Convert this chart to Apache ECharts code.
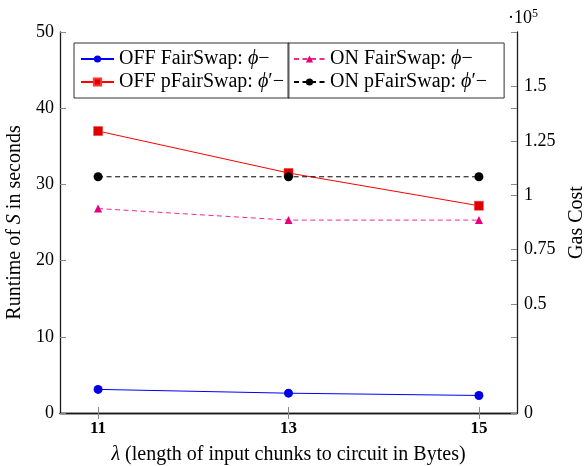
<!DOCTYPE html>
<html><head><meta charset="utf-8">
<script src="https://cdn.jsdelivr.net/npm/echarts@6/dist/echarts.min.js"></script>
<style>html,body{margin:0;padding:0;background:#fff}#c{width:584px;height:466px}</style>
</head><body><div id="c"></div>
<script>
const lambdas = [11, 13, 15];
const offFairSwap = [3.1, 2.6, 2.3];
const offPFairSwap = [37.0, 31.5, 27.2];
const onFairSwap = [93900, 88600, 88600];
const onPFairSwap = [108500, 108500, 108500];
const leftTicks = [0, 10, 20, 30, 40, 50];
const rightTicks = [0, 50000, 75000, 100000, 125000, 150000];
const rightTickLabels = ['0', '0.5', '0.75', '1', '1.25', '1.5'];

const FONT = 'Liberation Serif';
const FS = 20;
const pairs = ys => lambdas.map((x, i) => [x, ys[i]]);
const frame = { show: true, lineStyle: { color: '#1a1a1a', width: 1.3 } };
const tick = { show: true, inside: true, length: 6, lineStyle: { color: '#888', width: 1 } };
const rich = {
  i: { fontFamily: FONT, fontStyle: 'italic', fontSize: FS, color: '#000' }
};
const richT = {
  s: { fontFamily: FONT, fontSize: 12, color: '#000', verticalAlign: 'top', padding: [0, 0, 8, 0] }
};
const legendFmt = n => n.replace(/ϕ/g, '{i|ϕ}');

const chart = echarts.init(document.getElementById('c'), null, { renderer: 'canvas' });
chart.setOption({
  animation: false,
  backgroundColor: '#fff',
  title: {
    text: '·10{s|5}', left: 503, top: 3,
    textStyle: { fontFamily: FONT, fontSize: 18, fontWeight: 'normal', color: '#000', rich: richT }
  },
  grid: { left: 60, right: 67, top: 32, bottom: 53, outerBoundsMode: 'none', containLabel: false },
  legend: [
    {
      data: ['OFF FairSwap: ϕ−', 'OFF pFairSwap: ϕ′−'],
      orient: 'vertical', left: 74, top: 43,
      padding: [6, 5, 6, 6], itemGap: 3, itemWidth: 33, itemHeight: 9,
      borderColor: '#333', borderWidth: 1, borderRadius: 0,
      formatter: legendFmt,
      textStyle: { fontFamily: FONT, fontSize: FS, color: '#000', rich: rich }
    },
    {
      data: ['ON FairSwap: ϕ−', 'ON pFairSwap: ϕ′−'],
      orient: 'vertical', left: 288, top: 43,
      padding: [6, 17, 6, 5], itemGap: 3, itemWidth: 31, itemHeight: 9,
      borderColor: '#333', borderWidth: 1, borderRadius: 0,
      formatter: legendFmt,
      textStyle: { fontFamily: FONT, fontSize: FS, color: '#000', rich: rich }
    }
  ],
  xAxis: [
    {
      type: 'value', min: 10.6, max: 15.4, position: 'bottom',
      name: '{i|λ} (length of input chunks to circuit in Bytes)',
      nameLocation: 'middle', nameGap: 32,
      nameTextStyle: { fontFamily: FONT, fontSize: FS, color: '#000', rich: rich },
      axisLine: frame, splitLine: { show: false },
      axisTick: Object.assign({}, tick, { customValues: lambdas }),
      axisLabel: { customValues: lambdas, fontFamily: FONT, fontSize: 17, fontWeight: 'bold', color: '#000', margin: 7 }
    },
    {
      type: 'value', min: 10.6, max: 15.4, position: 'top',
      axisLine: frame, splitLine: { show: false },
      axisTick: Object.assign({}, tick, { customValues: lambdas }),
      axisLabel: { show: false }
    }
  ],
  yAxis: [
    {
      type: 'value', min: 0, max: 50, interval: 10, position: 'left',
      name: 'Runtime of {i|S} in seconds', nameLocation: 'middle', nameGap: 25,
      nameTextStyle: { fontFamily: FONT, fontSize: FS, color: '#000', rich: rich },
      axisLine: frame, splitLine: { show: false },
      axisTick: Object.assign({}, tick, { customValues: leftTicks }),
      axisLabel: { customValues: leftTicks, fontFamily: FONT, fontSize: 18, color: '#000', margin: 6 }
    },
    {
      type: 'value', min: 0, max: 175000, position: 'right',
      name: 'Gas Cost', nameLocation: 'middle', nameGap: 44, nameRotate: 90,
      nameTextStyle: { fontFamily: FONT, fontSize: FS, color: '#000' },
      axisLine: frame, splitLine: { show: false },
      axisTick: Object.assign({}, tick, { customValues: rightTicks }),
      axisLabel: {
        customValues: rightTicks, fontFamily: FONT, fontSize: 18, color: '#000', margin: 7,
        formatter: v => { const k = rightTicks.indexOf(v); return k >= 0 ? rightTickLabels[k] : ''; }
      }
    },
    {
      type: 'value', min: 0, max: 50, position: 'right',
      axisLine: { show: false }, splitLine: { show: false },
      axisTick: Object.assign({}, tick, { customValues: leftTicks }),
      axisLabel: { show: false }
    }
  ],
  series: [
    {
      name: 'OFF FairSwap: ϕ−', type: 'line', xAxisIndex: 0, yAxisIndex: 0,
      data: pairs(offFairSwap), symbol: 'circle', symbolSize: 9,
      lineStyle: { color: '#0000ff', width: 1 }, itemStyle: { color: '#0000e6' }
    },
    {
      name: 'OFF pFairSwap: ϕ′−', type: 'line', xAxisIndex: 0, yAxisIndex: 0,
      data: pairs(offPFairSwap), symbol: 'rect', symbolSize: 9,
      lineStyle: { color: '#ff0000', width: 1 }, itemStyle: { color: '#dd0000', borderColor: '#ff3333', borderWidth: 0.5 }
    },
    {
      name: 'ON FairSwap: ϕ−', type: 'line', xAxisIndex: 0, yAxisIndex: 1,
      data: pairs(onFairSwap), symbol: 'triangle', symbolSize: 8,
      lineStyle: { color: '#ec2a96', width: 1, type: [5, 3.5] }, itemStyle: { color: '#e6007e' }
    },
    {
      name: 'ON pFairSwap: ϕ′−', type: 'line', xAxisIndex: 0, yAxisIndex: 1,
      data: pairs(onPFairSwap), symbol: 'circle', symbolSize: 9,
      lineStyle: { color: '#000', width: 1, type: [5, 3.5] }, itemStyle: { color: '#000' }
    }
  ]
});
</script></body></html>
